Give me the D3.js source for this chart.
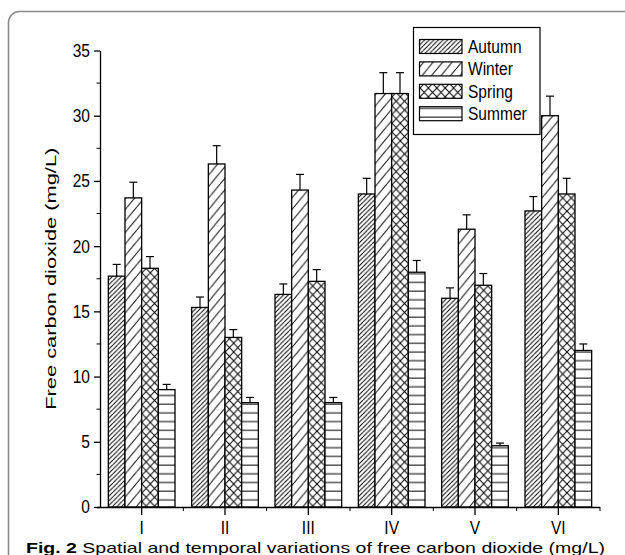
<!DOCTYPE html>
<html>
<head>
<meta charset="utf-8">
<script src="https://cdn.jsdelivr.net/npm/d3@7"></script>
<style>
  html, body { margin: 0; padding: 0; background: #fff; }
  svg { display: block; }
  text { font-family: Arial, "Liberation Sans", sans-serif; fill: #000; }
</style>
</head>
<body>
<div id="chart"></div>
<script>
// sites and seasons
const categories = ['I', 'II', 'III', 'IV', 'V', 'VI'];
const seasons = ['Autumn', 'Winter', 'Spring', 'Summer'];

// free CO2 (mg/L), one array per season
const autumn = [17.7, 15.3, 16.3, 24.0, 16.0, 22.7];
const winter = [23.7, 26.3, 24.3, 31.7, 21.3, 30.0];
const spring = [18.3, 13.0, 17.3, 31.7, 17.0, 24.0];
const summer = [9.0, 8.0, 8.0, 18.0, 4.7, 12.0];

// error bars (upper only)
const autumnErr = [0.9, 0.8, 0.8, 1.2, 0.8, 1.1];
const winterErr = [1.2, 1.4, 1.2, 1.6, 1.1, 1.5];
const springErr = [0.9, 0.6, 0.9, 1.6, 0.9, 1.2];
const summerErr = [0.4, 0.4, 0.4, 0.9, 0.2, 0.5];

const yTicks = [0, 5, 10, 15, 20, 25, 30, 35];
const yLabel = 'Free carbon dioxide (mg/L)';

const values = [autumn, winter, spring, summer];
const errors = [autumnErr, winterErr, springErr, summerErr];

const W = 625, H = 555;
const SQ = 0.84; // the picture is squeezed sideways, so is its text

const svg = d3.select('#chart').append('svg')
  .attr('width', W).attr('height', H);

// frame of the figure box
svg.append('rect')
  .attr('x', 8.5).attr('y', 11.5)
  .attr('width', 700).attr('height', 700)
  .attr('rx', 11)
  .attr('fill', 'none')
  .attr('stroke', '#8a8a8a')
  .attr('stroke-width', 1.6);

// hatch patterns
const defs = svg.append('defs');
function hatch(id, w, h, draw) {
  const p = defs.append('pattern')
    .attr('id', id)
    .attr('patternUnits', 'userSpaceOnUse')
    .attr('width', w).attr('height', h);
  p.append('rect').attr('width', w).attr('height', h).attr('fill', '#fff');
  draw(p, w, h);
}
function diag(p, w, h) {
  p.append('path')
    .attr('d', `M0,${h} L${w},0 M${-w},${h} L0,0 M${w},${h} L${2 * w},0`)
    .attr('stroke', '#000').attr('stroke-width', 1);
}
hatch('pat-Autumn', 4.6, 4.6, diag);
hatch('pat-Winter', 9.5, 11.5, diag);
hatch('pat-Spring', 8.4, 8.8, (p, w, h) => {
  p.append('path')
    .attr('d', `M0,0 L${w},${h} M0,${h} L${w},0`)
    .attr('stroke', '#000').attr('stroke-width', 1);
});
hatch('pat-Summer', 10, 8.7, (p, w, h) => {
  p.append('line')
    .attr('x1', 0).attr('x2', w)
    .attr('y1', 4).attr('y2', 4)
    .attr('stroke', '#000').attr('stroke-width', 1);
});

// scales
const x = d3.scaleBand()
  .domain(categories)
  .range([100, 600])
  .paddingInner(0.2)
  .paddingOuter(0.1);

const xs = d3.scaleBand()
  .domain(seasons)
  .range([0, x.bandwidth()]);

const y = d3.scaleLinear()
  .domain([0, 35])
  .range([507, 50.5]);

// bars
const groups = svg.append('g').selectAll('g')
  .data(categories)
  .enter().append('g')
  .attr('transform', c => `translate(${x(c)},0)`);

groups.each(function(c, ci) {
  const g = d3.select(this);
  seasons.forEach((s, si) => {
    const v = values[si][ci];
    const e = errors[si][ci];
    const bx = xs(s);
    const cx = bx + xs.bandwidth() / 2;
    // error bar first so bar outline sits on top
    g.append('line')
      .attr('x1', cx).attr('x2', cx)
      .attr('y1', y(v)).attr('y2', y(v + e))
      .attr('stroke', '#000').attr('stroke-width', 1.2);
    g.append('line')
      .attr('x1', cx - 4).attr('x2', cx + 4)
      .attr('y1', y(v + e)).attr('y2', y(v + e))
      .attr('stroke', '#000').attr('stroke-width', 1.2);
    g.append('rect')
      .attr('x', bx).attr('y', y(v))
      .attr('width', xs.bandwidth())
      .attr('height', y(0) - y(v))
      .attr('fill', `url(#pat-${s})`)
      .attr('stroke', '#000').attr('stroke-width', 1.3);
  });
});

// y axis
const yAxis = d3.axisLeft(y)
  .tickValues(yTicks)
  .tickSize(6)
  .tickSizeOuter(0)
  .tickPadding(6);
const yg = svg.append('g')
  .attr('transform', 'translate(100,0)')
  .call(yAxis);
yg.selectAll('text')
  .attr('font-size', 18.5)
  .attr('font-family', 'Arial, "Liberation Sans", sans-serif')
  .attr('transform', `scale(${SQ},1)`);
// minor ticks
yg.selectAll('.minor')
  .data(yTicks.slice(0, -1).map(t => t + 2.5))
  .enter().append('line')
  .attr('class', 'minor')
  .attr('x1', 0).attr('x2', -3.5)
  .attr('y1', d => y(d)).attr('y2', d => y(d))
  .attr('stroke', '#000');

// x axis
const xAxis = d3.axisBottom(x)
  .tickSize(8)
  .tickSizeOuter(0)
  .tickPadding(6);
const xg = svg.append('g')
  .attr('transform', `translate(0,${y(0)})`)
  .call(xAxis);
xg.select('.domain').attr('d', `M${x.range()[0] - 3},0.5H${x.range()[1]}`);
xg.selectAll('text')
  .attr('font-size', 18.5)
  .attr('font-family', 'Arial, "Liberation Sans", sans-serif')
  .attr('transform', `scale(${SQ},1)`);
const bounds = categories.map(c => x(c) - x.step() * x.paddingInner() / 2)
  .concat([x(categories[categories.length - 1]) + x.bandwidth() + x.step() * x.paddingInner() / 2]);
xg.selectAll('.minor')
  .data(bounds.slice(1))
  .enter().append('line')
  .attr('class', 'minor')
  .attr('x1', d => d).attr('x2', d => d)
  .attr('y1', 0).attr('y2', 4)
  .attr('stroke', '#000');
svg.selectAll('.domain, .tick line').attr('stroke-width', 1.3);

// y label
svg.append('text')
  .attr('transform', `translate(56,${(y(0) + y(35)) / 2}) rotate(-90) scale(1.15,0.8)`)
  .attr('text-anchor', 'middle')
  .attr('font-size', 19)
  .text(yLabel);

// legend
const lg = svg.append('g');
lg.append('rect')
  .attr('x', 413.5).attr('y', 27.5)
  .attr('width', 126.5).attr('height', 107)
  .attr('fill', '#fff')
  .attr('stroke', '#000').attr('stroke-width', 1.2);
seasons.forEach((s, i) => {
  const ty = 39.5 + i * 22.4;
  lg.append('rect')
    .attr('x', 419.5).attr('y', ty)
    .attr('width', 42.5).attr('height', 14)
    .attr('fill', `url(#pat-${s})`)
    .attr('stroke', '#000').attr('stroke-width', 1.2);
  lg.append('text')
    .attr('transform', `translate(468,${ty + 13.5}) scale(${SQ},1)`)
    .attr('font-size', 18.5)
    .text(s);
});

// caption at the page bottom
const cap = svg.append('text')
  .attr('x', 26).attr('y', 553)
  .attr('font-family', '"Open Sans", "Noto Sans", sans-serif')
  .attr('font-size', 14.5)
  .attr('fill', '#222');
cap.append('tspan').attr('font-weight', 'bold').text('Fig. 2');
cap.append('tspan').text(' Spatial and temporal variations of free carbon dioxide (mg/L)');
cap.attr('textLength', 579).attr('lengthAdjust', 'spacingAndGlyphs');
</script>
</body>
</html>
